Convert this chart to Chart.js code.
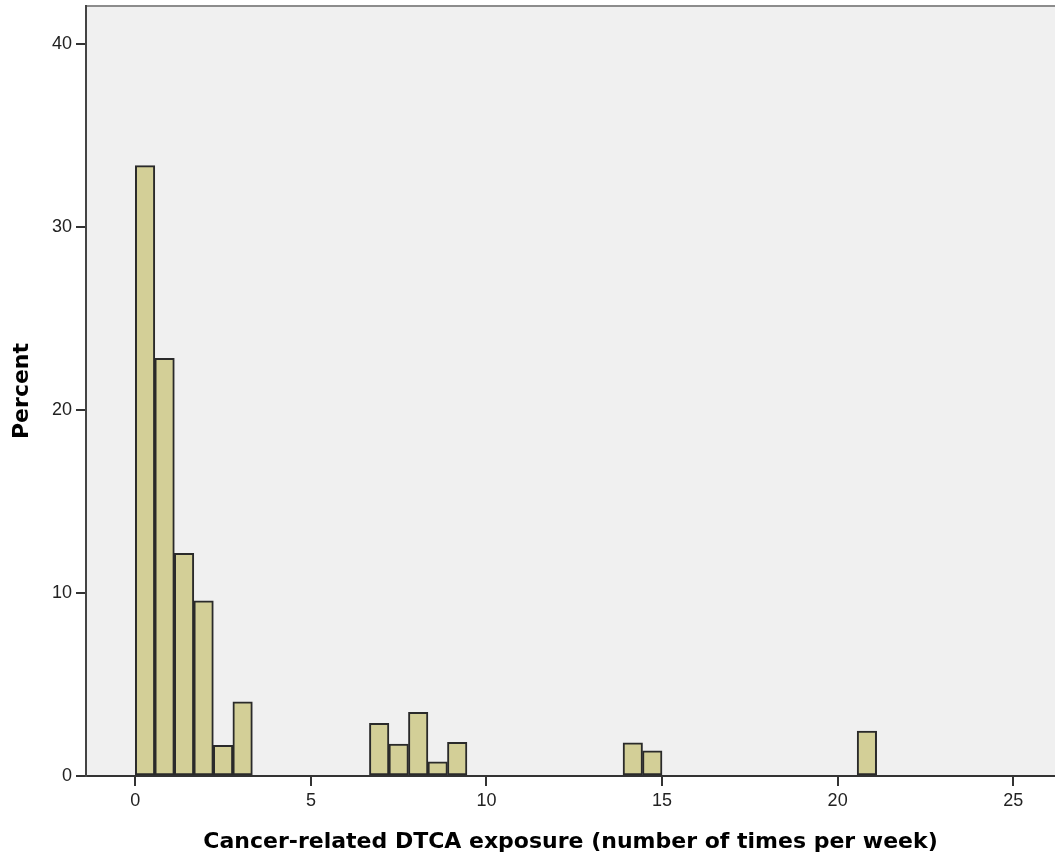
<!DOCTYPE html>
<html>
<head>
<meta charset="utf-8">
<script src="https://cdn.jsdelivr.net/npm/chart.js@4/dist/chart.umd.min.js"></script>
<style>
  html, body { margin: 0; padding: 0; background: #fff; }
  #wrap { width: 1055px; height: 863px; }
</style>
</head>
<body>
<div id="wrap"><canvas id="hist"></canvas></div>
<script>
// histogram bins (start of each bin, times per week) and their percent
const binWidth = 5 / 9;
const binStarts = [0, 0.556, 1.111, 1.667, 2.222, 2.778, 6.667, 7.222, 7.778, 8.333, 8.889, 13.889, 14.444, 20.556];
const percents = [33.37, 22.84, 12.17, 9.58, 1.68, 4.06, 2.88, 1.75, 3.48, 0.78, 1.84, 1.82, 1.37, 2.46];
const xTicks = [0, 5, 10, 15, 20, 25];
const yTicks = [0, 10, 20, 30, 40];
const xTitle = 'Cancer-related DTCA exposure (number of times per week)';
const yTitle = 'Percent';

const points = binStarts.map((s, i) => ({ x: s + binWidth / 2, y: percents[i] }));

const plotBackground = {
  id: 'plotBackground',
  beforeDraw(chart) {
    const { ctx, chartArea: a } = chart;
    ctx.save();
    ctx.fillStyle = '#f0f0f0';
    ctx.fillRect(a.left, a.top, a.right - a.left, a.bottom - a.top);
    ctx.strokeStyle = '#8c8c8c';
    ctx.lineWidth = 2;
    ctx.beginPath();
    ctx.moveTo(a.left, a.top);
    ctx.lineTo(a.right, a.top);
    ctx.stroke();
    ctx.restore();
  }
};

const tickFont = { family: '"Liberation Sans", Arial, sans-serif', size: 18 };
const titleFont = { family: '"DejaVu Sans", sans-serif', size: 22, weight: 'bold' };

new Chart(document.getElementById('hist').getContext('2d'), {
  type: 'bar',
  data: {
    datasets: [{
      data: points,
      backgroundColor: '#d3cf97',
      borderColor: '#2a2a2a',
      borderWidth: 2,
      borderSkipped: false,
      barPercentage: 1,
      categoryPercentage: 1
    }]
  },
  options: {
    responsive: true,
    maintainAspectRatio: false,
    animation: false,
    layout: { padding: { top: 6, right: 0, left: 0, bottom: 0 } },
    plugins: { legend: { display: false }, tooltip: { enabled: false } },
    scales: {
      x: {
        type: 'linear',
        offset: false,
        min: -1.404,
        max: 26.19,
        afterBuildTicks: s => { s.ticks = xTicks.map(v => ({ value: v })); },
        afterFit: s => { s.height = 87; s.paddingLeft = 0; s.paddingRight = 0; },
        grid: { offset: false, drawOnChartArea: false, tickLength: 10, color: '#333', lineWidth: 2 },
        border: { color: '#333', width: 2 },
        ticks: { font: tickFont, color: '#222', padding: 4, maxRotation: 0 },
        title: { display: true, text: xTitle, font: titleFont, color: '#000', padding: { top: 0, bottom: 8 } }
      },
      y: {
        min: 0,
        max: 42.1,
        afterBuildTicks: s => { s.ticks = yTicks.map(v => ({ value: v })); },
        afterFit: s => { s.width = 86; s.paddingTop = 0; s.paddingBottom = 0; },
        grid: { drawOnChartArea: false, tickLength: 10, color: '#333', lineWidth: 2 },
        border: { color: '#444', width: 2 },
        ticks: { font: tickFont, color: '#222', padding: 4 },
        title: { display: true, text: yTitle, font: titleFont, color: '#000', padding: { top: 9, bottom: 0 } }
      }
    }
  },
  plugins: [plotBackground]
});
</script>
</body>
</html>
